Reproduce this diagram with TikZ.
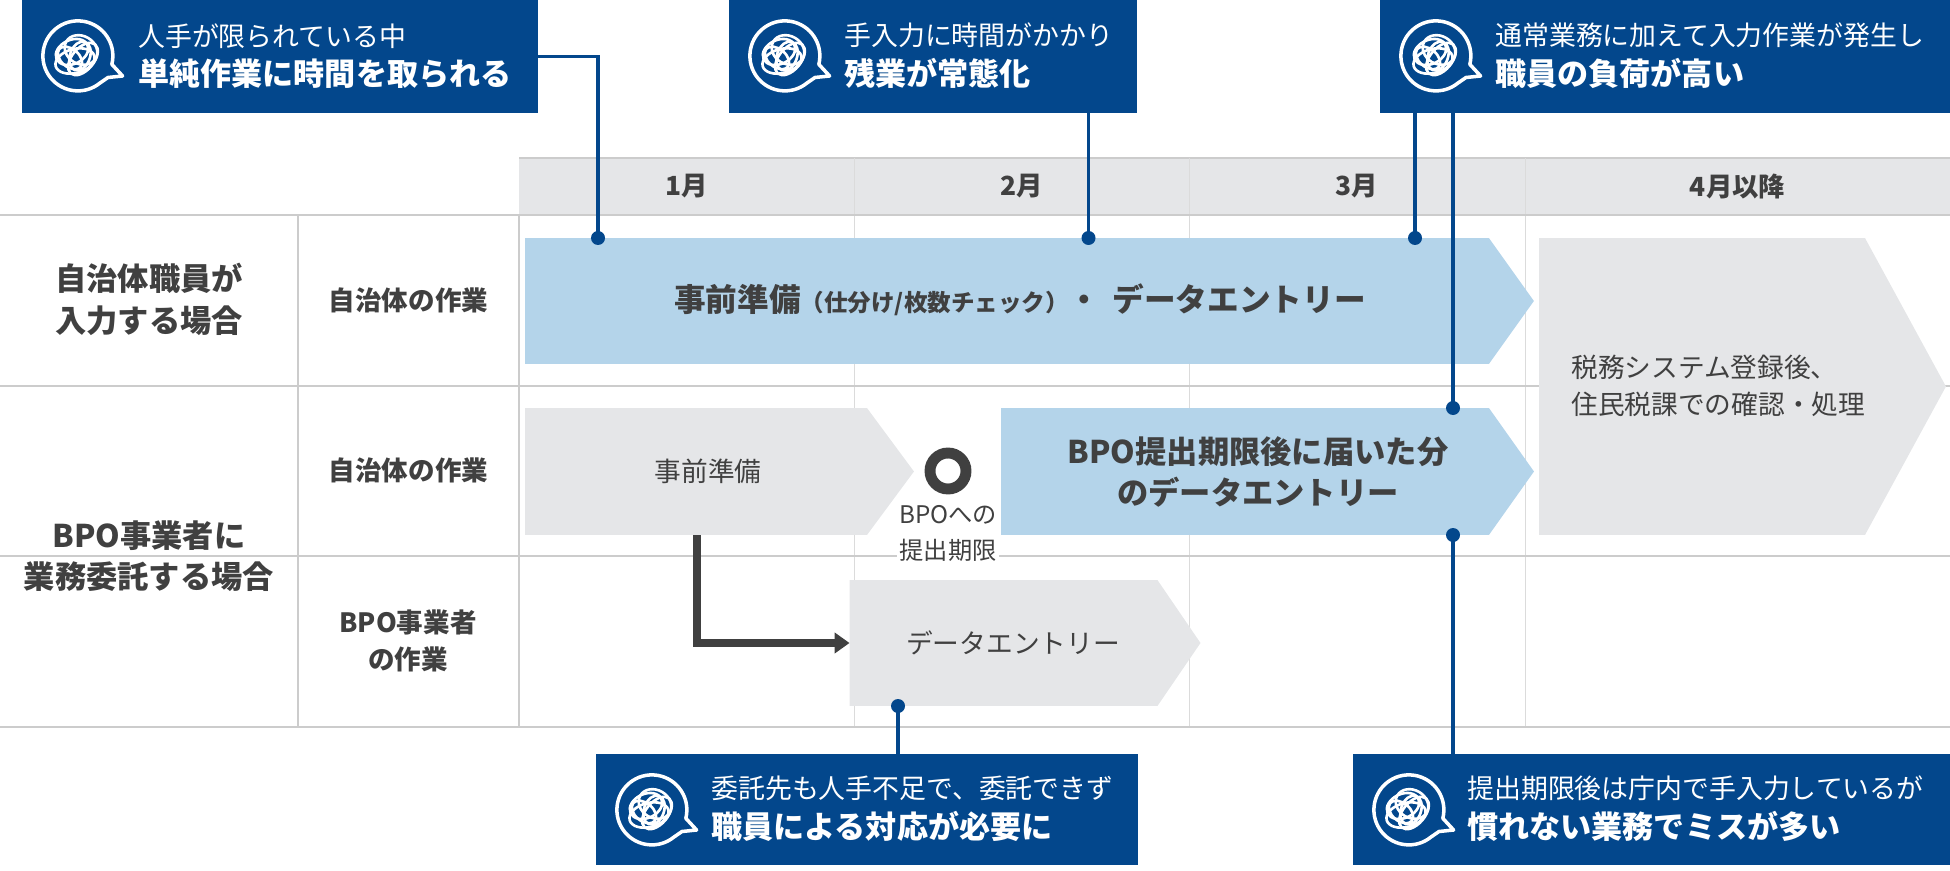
\documentclass[tikz,border=0pt]{standalone}
\usepackage{fontspec}
\setmainfont{Noto Sans CJK JP}
\usetikzlibrary{arrows.meta,shapes.symbols}
\definecolor{navy}{HTML}{03478C}
\definecolor{skyfill}{HTML}{B4D4EA}
\definecolor{greyfill}{HTML}{E5E6E8}
\definecolor{inkgrey}{HTML}{404040}
\definecolor{gridgrey}{HTML}{CCCCCC}
\newcommand{\voicelines}[2]{{\fontsize{15.3}{22}\selectfont #1}\\[5pt]{\fontsize{17.7}{22}\selectfont\bfseries #2}}
\tikzset{
  voicebox/.style={fill=navy, inner sep=0pt, outer sep=0pt},
  voicetext/.style={text=white, anchor=west, align=left, inner sep=0pt},
  lead/.style={draw=navy, line width=2pt},
  leaddot/.style={fill=navy},
  band/.style={shape=signal, signal to=east, inner sep=0pt, outer sep=0pt},
  head/.style={fill=greyfill, minimum height=1.14cm, inner sep=0pt, outer sep=0pt, text=inkgrey, font=\fontsize{15}{18}\selectfont\bfseries},
  rowlabel/.style={text=inkgrey, align=center, inner sep=0pt, font=\fontsize{15.1}{21}\selectfont\bfseries},
  grouplabel/.style={text=inkgrey, align=center, inner sep=0pt, font=\fontsize{17.8}{23.5}\selectfont\bfseries},
  bandtext/.style={text=inkgrey, align=center, inner sep=0pt, font=\fontsize{15.2}{21}\selectfont},
  mindicon/.pic={
    \draw[white, line width=2pt, line join=round] (22,27) arc[start angle=50.8, end angle=374, radius=35] -- (44.6,20) -- (30,21.5) -- cycle;
    \draw[white, line width=1.5pt] (-6,-4) ellipse[x radius=17, y radius=12, rotate=25];
    \draw[white, line width=1.5pt] (3,-6) ellipse[x radius=17, y radius=14, rotate=-30];
    \draw[white, line width=1.5pt] (5,3) ellipse[x radius=19, y radius=11, rotate=50];
    \draw[white, line width=1.5pt] (-3,5) ellipse[x radius=20, y radius=12, rotate=15];
    \draw[white, line width=1.5pt] (-8,2) ellipse[x radius=14, y radius=9, rotate=-40];
    \draw[white, line width=1.5pt] (2,0) ellipse[x radius=10, y radius=15, rotate=-20];
  }
}
\begin{document}
\begin{tikzpicture}[x=0.02cm, y=-0.02cm, >=stealth]
  \useasboundingbox (0,0) rectangle (1950,871);
  % table
  \node[head, minimum width=6.7cm] (jan) at (686.5,186.5) {1月};
  \node[head, minimum width=6.7cm] (feb) at (1021.5,186.5) {2月};
  \node[head, minimum width=6.72cm] (mar) at (1357,186.5) {3月};
  \node[head, minimum width=8.5cm] (apr) at (1737.5,186.5) {4月以降};
  \draw[gridgrey, line width=0.6pt] (519,158) -- (1950,158);
  \foreach \x in {854,1189,1525}
    \draw[gridgrey!70, line width=0.4pt] (\x,158) -- (\x,727);
  \foreach \y in {215,386,556,727}
    \draw[gridgrey, line width=0.85pt] (0,\y) -- (1950,\y);
  \draw[gridgrey, line width=0.85pt] (298,215) -- (298,727);
  \draw[gridgrey, line width=0.85pt] (519,215) -- (519,727);
  % row labels
  \node[grouplabel] (staffcase) at (149,299.5) {自治体職員が\\入力する場合};
  \node[grouplabel] (bpocase) at (149,556.5) {BPO事業者に\\業務委託する場合};
  \node[rowlabel] (staffrow) at (408.5,300) {自治体の作業};
  \node[rowlabel] (cityrow) at (408.5,470) {自治体の作業};
  \node[rowlabel] (bporow) at (408,641) {BPO事業者\\の作業};
  % bands
  \node[band, fill=skyfill, minimum width=20.18cm, minimum height=2.52cm, signal pointer angle=108.9] (entryband) at (1007,301) {};
  \node[band, fill=greyfill, minimum width=8.14cm, minimum height=5.94cm, signal pointer angle=122.8] (afterband) at (1702,386.5) {};
  \node[band, fill=greyfill, minimum width=7.78cm, minimum height=2.54cm, signal pointer angle=107] (prepband) at (696,471.5) {};
  \node[band, fill=skyfill, minimum width=10.66cm, minimum height=2.54cm, signal pointer angle=109.3] (lateband) at (1245,471.5) {};
  \node[band, fill=greyfill, minimum width=7.02cm, minimum height=2.52cm, signal pointer angle=111.3] (bpoband) at (1003.5,643) {};
  \node[text=inkgrey, inner sep=0pt] (entrytext) at (1020,300) {\fontsize{18}{22}\selectfont\bfseries 事前準備\fontsize{13.4}{22}\selectfont（仕分け/枚数チェック）\fontsize{18}{22}\selectfont・\hspace{7pt}データエントリー};
  \node[bandtext, align=left, anchor=west] (aftertext) at (1571,385.5) {税務システム登録後、\\住民税課での確認・処理};
  \node[bandtext] (preptext) at (708,471) {事前準備};
  \node[text=inkgrey, align=center, inner sep=0pt, font=\fontsize{17.8}{23}\selectfont\bfseries] (latetext) at (1258,472) {BPO提出期限後に届いた分\\のデータエントリー};
  \node[bandtext] (bpotext) at (1013,643) {データエントリー};
  % deadline
  \node[draw=inkgrey, line width=6.2pt, circle, minimum size=36*0.02cm, inner sep=0pt] (deadline) at (948,471) {};
  \node[fill=white, text=inkgrey, align=center, inner sep=1pt, font=\fontsize{13.8}{20}\selectfont] (deadlinetext) at (948,533.5) {BPOへの\\提出期限};
  \draw[-{Triangle[length=8.5pt, width=11.4pt]}, draw=inkgrey, line width=4pt] (697,535) |- (bpoband.west);
  % callouts
  \coordinate (dotA) at (598,238);
  \coordinate (dotB) at (1088.5,238);
  \coordinate (dotC) at (1415,238);
  \coordinate (dotD) at (1453,408);
  \coordinate (dotE) at (1453,535);
  \coordinate (dotF) at (898,706);
  \node[voicebox, minimum width=10.32cm, minimum height=2.26cm] (voiceA) at (280,56.5) {};
  \node[voicebox, minimum width=8.16cm, minimum height=2.26cm] (voiceB) at (933,56.5) {};
  \node[voicebox, minimum width=11.4cm, minimum height=2.26cm] (voiceC) at (1665,56.5) {};
  \node[voicebox, minimum width=10.84cm, minimum height=2.24cm] (voiceD) at (867,809.5) {};
  \node[voicebox, minimum width=11.94cm, minimum height=2.24cm] (voiceE) at (1651.5,809.5) {};
  \draw[lead] (voiceA.east) -| (dotA);
  \draw[lead] (voiceB.south -| dotB) -- (dotB);
  \draw[lead] (voiceC.south -| dotC) -- (dotC);
  \draw[lead] (voiceC.south -| dotD) -- (dotD);
  \draw[lead] (dotE) -- (voiceE.north -| dotE);
  \draw[lead] (dotF) -- (voiceD.north -| dotF);
  \foreach \d in {dotA,dotB,dotC,dotD,dotE,dotF}
    \fill[leaddot] (\d) circle[radius=7];
  \pic at (78,56) {mindicon};
  \pic at (785,56) {mindicon};
  \pic at (1436,56) {mindicon};
  \pic at (652,810) {mindicon};
  \pic at (1409,810) {mindicon};
  \node[voicetext] (textA) at (138,56) {\voicelines{人手が限られている中}{単純作業に時間を取られる}};
  \node[voicetext] (textB) at (844,56) {\voicelines{手入力に時間がかかり}{残業が常態化}};
  \node[voicetext] (textC) at (1495,56) {\voicelines{通常業務に加えて入力作業が発生し}{職員の負荷が高い}};
  \node[voicetext] (textD) at (711,809) {\voicelines{委託先も人手不足で、委託できず}{職員による対応が必要に}};
  \node[voicetext] (textE) at (1467,809) {\voicelines{提出期限後は庁内で手入力しているが}{慣れない業務でミスが多い}};
\end{tikzpicture}
\end{document}
